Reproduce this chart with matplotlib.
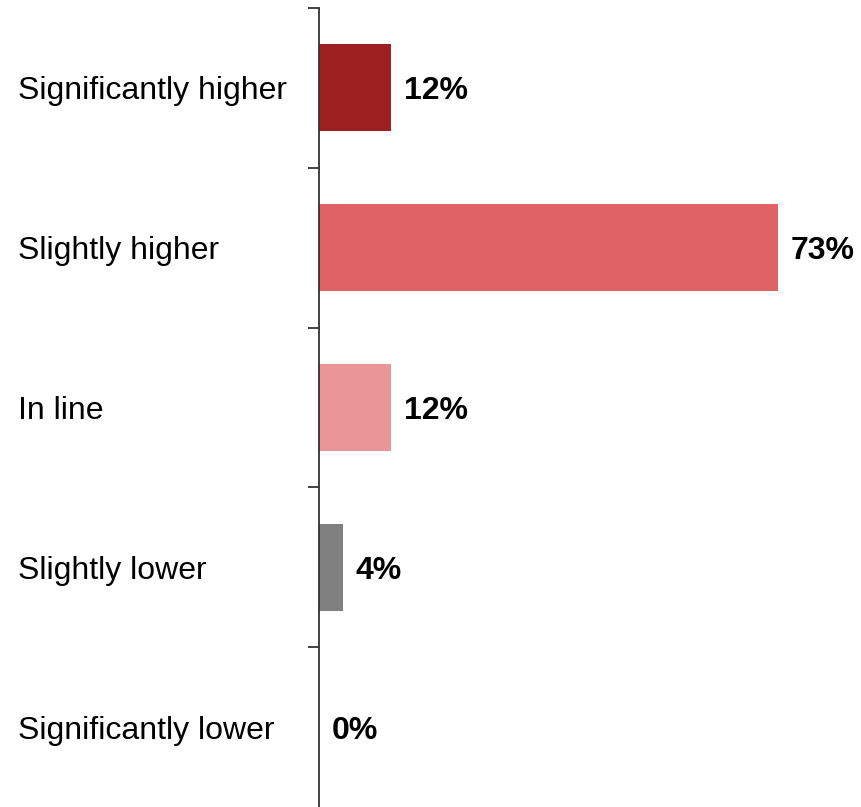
import matplotlib.pyplot as plt
import numpy as np

plt.rcParams['font.family'] = ['Liberation Sans', 'DejaVu Sans']

categories = ['Significantly higher', 'Slightly higher', 'In line', 'Slightly lower', 'Significantly lower']
values = [11.5, 73.0, 11.5, 3.8, 0.0]
labels = ['12%', '73%', '12%', '4%', '0%']
colors = ['#9E1F20', '#E06264', '#EA9696', '#808080', '#808080']

fig = plt.figure(figsize=(8.62, 8.07), dpi=100)
ax = fig.add_axes([319 / 862, 0, 1 - 319 / 862, (807 - 8) / 807])

y = np.arange(len(categories))
ax.barh(y, values, height=0.545, color=colors)

for yi, v, lab in zip(y, values, labels):
    ax.annotate(lab, (v, yi), xytext=(9, -2.5), textcoords='offset points',
                ha='left', va='center', fontsize=23, fontweight='bold')

ax.set_ylim(len(categories) - 0.5, -0.5)
ax.set_xlim(0, 73.0 * 543 / 459)

ax.set_yticks(y)
ax.set_yticklabels(categories, fontsize=23, ha='left')
ax.tick_params(axis='y', which='major', length=0, pad=216.7)
# separators between categories (bottom one falls off the figure)
ax.set_yticks(np.arange(len(categories)) - 0.5, minor=True)
ax.tick_params(axis='y', which='minor', length=8, width=1.3, color='#333333')

ax.set_xticks([])
for s in ['top', 'right', 'bottom']:
    ax.spines[s].set_visible(False)
ax.spines['left'].set_color('#333333')
ax.spines['left'].set_linewidth(1.3)

fig.savefig('out.png', dpi=100)
